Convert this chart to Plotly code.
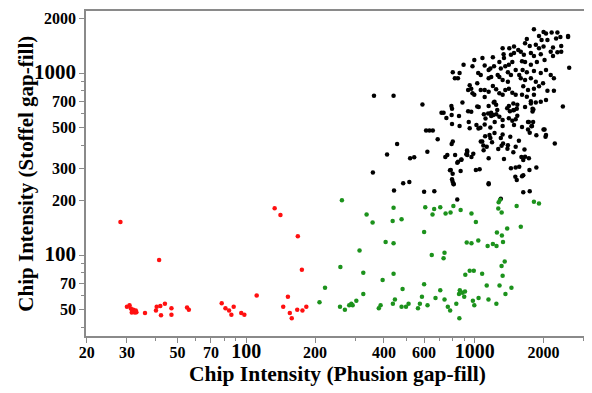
import plotly.graph_objects as go

# ---- data ----
red_x = [28.1, 41.5, 133, 141, 168, 175, 111, 152, 145, 155, 158, 167, 176, 183,
         30, 30.8, 31.2, 31.6, 32, 32.5, 33, 32, 31.5, 32.8, 36, 40.5, 40.2, 42, 42.3,
         44, 47, 47, 55, 56, 78, 81, 84, 86, 88, 95, 98]
red_y = [152, 94, 181, 166, 127, 83, 60, 59, 52, 48, 45, 50, 49.5, 52,
         52, 53, 50.9, 50, 48.9, 48.3, 48.5, 50, 48.3, 49.5, 48, 52, 49.5, 52.5, 46.7,
         54, 51, 47, 51.5, 50, 54.3, 51, 49.5, 47, 52, 48, 47]

green_x = [262, 336, 357, 441, 437, 478, 607, 664, 706, 653, 745, 783, 806, 867, 967, 1011,
           600, 407, 441, 313, 648, 737, 730, 922, 967, 1036, 1138, 1200, 1245, 1329, 1250,
           1314, 1386, 1590, 1272, 1290, 1267, 1311, 1525, 1815, 1910, 258, 325, 221, 209,
           257, 270, 282, 288, 292, 303, 325, 395, 441, 483, 447, 438, 380, 387, 478, 500,
           513, 564, 575, 587, 621, 600, 673, 706, 737, 762, 780, 856, 830, 853, 860, 883,
           899, 906, 909, 950, 990, 981, 995, 1039, 1077, 1128, 1148, 1243, 1283, 1310,
           1324, 1352, 1362, 1447]
green_y = [200, 167, 151, 182, 154, 157, 183, 179, 183, 167, 169, 171, 186, 177, 169, 152,
           134, 118, 116, 106, 100, 103, 96, 117, 116, 120, 112, 115, 112, 118, 133,
           128, 140, 143, 195, 201, 180, 171, 186, 196, 192, 86, 80, 66, 55,
           52, 50, 53, 54, 53, 56, 61, 73, 79, 65, 57, 54, 51, 53, 52, 52,
           54, 51, 54, 59, 53, 69, 58, 64, 57, 52, 49.5, 45, 54, 61, 64, 62,
           59, 63, 78, 82, 82, 56, 53, 58, 79, 68, 57, 54, 68, 87,
           77, 92, 61, 66]

black_x = [362, 441, 590, 612, 633, 655, 688, 457, 413, 521, 543, 620, 358, 486, 517, 443,
           600, 665, 715, 751, 792, 795, 858, 935, 965, 950, 1017, 1038, 1096, 1114, 1179,
           1205, 1242, 1281, 1105, 1170, 1222, 1324, 1386, 1425, 1475, 1527, 1460, 1510,
           1485, 1324, 1430, 1560, 801, 792, 758, 743, 820, 845, 874, 927, 927, 967, 1078,
           1128, 1093, 1170, 1190, 1150, 1267, 1310, 1396, 1475, 1342, 1565, 1440, 867, 779,
           1011, 1050, 795, 808, 1150, 1527, 838, 1300, 801, 818, 844, 858, 893, 995, 977,
           1080, 1200, 1105, 1035, 1170, 1214, 1281, 1324, 1416, 1485, 1337, 1342, 1440,
           1485, 1550, 1300, 1360, 1410, 1460, 1396, 1440, 1510, 1565, 1260, 1281, 1150,
           1180, 1062, 1025, 950, 935, 965, 977, 995, 1062, 1105, 1150, 1200, 1240, 1281,
           1324, 1360, 1410, 1460, 1510, 1396, 1324, 1105, 1210, 1240, 1410, 1475, 1535,
           790, 883, 1025, 1815, 1910, 2000, 2050, 2170, 2300, 1960, 2080, 2270, 2370, 2560,
           1690, 1660, 1740, 1850, 1910, 2000, 2200, 2390, 1590, 1640, 1760, 1815, 1945,
           2150, 2200, 2300, 2390, 1610, 1660, 1760, 1870, 2020, 2590, 1620, 1690, 1815,
           1945, 2050, 2150, 2220, 1590, 1660, 1760, 1850, 1990, 1630, 1710, 1815, 1910,
           2080, 2220, 1610, 1690, 1815, 1760, 1850, 2050, 2430, 1790, 2560, 1805, 1710,
           1800, 1610, 1710, 1780, 1740, 1860, 2000, 2040, 2240, 1650, 1600, 1725, 1860,
           1735, 1630, 1630, 1740, 1150, 730, 795, 853, 1040, 1150, 1220, 941, 1058, 1144,
           1180, 1254, 1324, 1410, 1485, 1535, 1660, 1760, 1945, 1790, 785, 800, 800, 808,
           838, 873, 925, 918, 1150, 1510, 1505, 1610, 1660, 1630, 2020, 2050, 1725, 1770,
           1110, 1160, 1220, 1300, 1330, 1390, 1510, 1062, 1090, 985]
black_y = [750, 750, 672, 484, 484, 484, 433, 408, 357, 340, 345, 370, 284, 248, 252, 226,
           223, 224, 605, 567, 588, 525, 512, 617, 612, 498, 518, 496, 593, 563, 605,
           588, 593, 575, 522, 502, 538, 512, 640, 617, 625, 636, 547, 557,
           518, 459, 447, 424, 420, 408, 355, 346, 355, 326, 334, 370, 355, 346, 420,
           394, 376, 440, 416, 340, 382, 398, 401, 367, 337, 306, 300, 290, 292,
           293, 296, 261, 246, 245, 258, 202, 204, 1010, 935, 935, 1000, 1110, 1180, 1090,
           1210, 1220, 1100, 1000, 1060, 1090, 1150, 1370, 1370, 1400, 1270, 1210, 1260,
           1290, 1340, 1060, 1090, 1110, 1150, 1010, 975, 1040, 975, 975, 950, 935,
           950, 975, 880, 858, 808, 820, 775, 760, 808, 808, 790, 850, 815, 775,
           760, 808, 820, 780, 760, 895, 915, 738, 690, 670, 660, 680, 670,
           660, 690, 655, 1740, 1600, 1680, 1650, 1670, 1670, 1520, 1520, 1550, 1580, 1580,
           1540, 1460, 1410, 1430, 1370, 1400, 1380, 1410, 1310, 1260, 1290, 1240, 1270,
           1310, 1240, 1300, 1310, 1160, 1150, 1110, 1150, 1180, 1070, 1040, 1010, 1025,
           1000, 1040, 975, 935, 935, 915, 935, 895, 880, 845, 808, 820, 845,
           800, 800, 760, 740, 760, 700, 690, 711, 655, 636, 1600, 630, 538,
           538, 505, 490, 512, 470, 455, 490, 447, 410, 380, 346, 340, 303,
           293, 274, 221, 224, 1040, 605, 636, 580, 650, 660, 695, 538, 500, 600,
           580, 627, 552, 565, 627, 583, 650, 680, 695, 615, 293, 280, 253, 245,
           321, 335, 375, 358, 248, 303, 269, 271, 347, 333, 490, 456, 538, 510,
           450, 457, 468, 440, 410, 384, 393, 420, 400, 360]

x_tick_vals = [20, 30, 50, 70, 100, 200, 400, 600, 1000, 2000]
x_tick_text = ["20", "30", "50", "70", "<span style='font-size:20px'>100</span>",
               "200", "400", "600", "<span style='font-size:20px'>1000</span>", "2000"]
x_minor_vals = [40, 60, 80, 90, 300, 500, 700, 800, 900, 3000]

y_tick_vals = [50, 70, 100, 200, 300, 500, 700, 1000, 2000]
y_tick_text = ["50", "70", "<span style='font-size:21px'>100</span>", "200", "300", "500",
               "700", "<span style='font-size:21px'>1000</span>", "2000"]
y_minor_vals = [40, 60, 80, 90, 400, 600, 800, 900]

FONT = "Liberation Serif, Times New Roman, serif"

fig = go.Figure()
for xs, ys, col in [(black_x, black_y, "#000000"),
                    (green_x, green_y, "#1c921c"),
                    (red_x, red_y, "#ff1010")]:
    fig.add_trace(go.Scatter(x=xs, y=ys, mode="markers",
                             marker=dict(color=col, size=4.5, line=dict(width=0)),
                             showlegend=False, hoverinfo="skip"))

axis_common = dict(
    type="log", showgrid=False, zeroline=False,
    showline=True, linecolor="#8a8a8a", linewidth=1.5, mirror=True,
    ticks="outside", ticklen=5, tickcolor="#8a8a8a", tickwidth=1,
    tickfont=dict(family=FONT, size=16, color="black", weight="bold"),
)

fig.update_xaxes(
    **axis_common,
    range=[1.298, 3.5],
    tickmode="array", tickvals=x_tick_vals, ticktext=x_tick_text,
    ticklabelstandoff=-4,
    minor=dict(tickmode="array", tickvals=x_minor_vals, ticks="outside",
               ticklen=3, tickcolor="#8a8a8a"),
    title=dict(text="Chip Intensity (Phusion gap-fill)", standoff=2,
               font=dict(family=FONT, size=21.5, color="black", weight="bold")),
)
fig.update_yaxes(
    **axis_common,
    range=[1.555, 3.341],
    tickmode="array", tickvals=y_tick_vals, ticktext=y_tick_text,
    minor=dict(tickmode="array", tickvals=y_minor_vals, ticks="outside",
               ticklen=3, tickcolor="#8a8a8a"),
)

fig.add_annotation(
    text="Chip Intensity (Stoffel gap-fill)", textangle=-90,
    xref="paper", yref="paper", x=-0.121, y=0.5,
    xanchor="center", yanchor="middle", showarrow=False,
    font=dict(family=FONT, size=21, color="black", weight="bold"),
)

# The page body has an 8px default margin, so the figure is 8px smaller
fig.update_layout(
    width=584, height=385,
    margin=dict(l=78, r=3, t=3, b=57, autoexpand=False),
    paper_bgcolor="white", plot_bgcolor="white",
    showlegend=False,
)

fig.write_html("out.html")
